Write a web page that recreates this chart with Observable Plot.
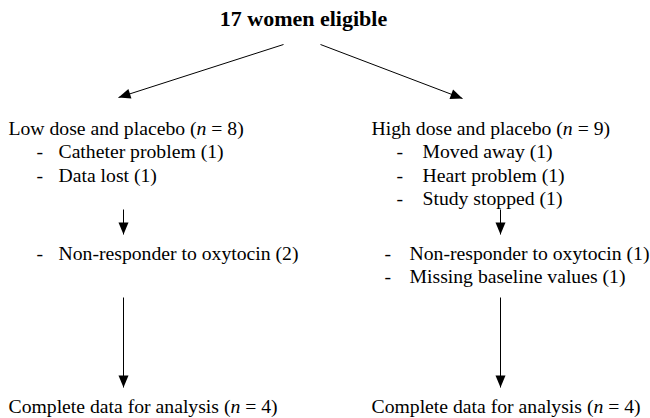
<!DOCTYPE html>
<html>
<head>
<meta charset="utf-8">
<script src="https://cdn.jsdelivr.net/npm/d3@7"></script>
<script src="https://cdn.jsdelivr.net/npm/@observablehq/plot@0.6"></script>
<style>
  html, body { margin: 0; padding: 0; background: #fff; }
  #chart svg { display: block; }
</style>
</head>
<body>
<div id="chart"></div>
<script>
// ---- Data ----
const title = "17 women eligible";
const groupNames = ["Low dose and placebo", "High dose and placebo"];
const groupN = [8, 9];
const firstExclusions = [
  ["Catheter problem (1)", "Data lost (1)"],
  ["Moved away (1)", "Heart problem (1)", "Study stopped (1)"]
];
const secondExclusions = [
  ["Non-responder to oxytocin (2)"],
  ["Non-responder to oxytocin (1)", "Missing baseline values (1)"]
];
const analysedLabel = "Complete data for analysis";
const analysedN = [4, 4];

// ---- Layout (positions in chart units) ----
const colLeft = [8, 371];        // left edge of the group headings
const colDash1 = [36, 396];      // dash of first exclusion list
const colItem1 = [58, 422];      // text of first exclusion list
const colDash2 = [36, 384];
const colItem2 = [58, 409];
const colArrow = [123, 500];
const titleX = 303, titleY = 18;
const headY = 128, lineGap = 23.5;
const list2Y = 253;
const arrow1 = [209, 234];
const arrow2 = [297, 387];
const finalY = 406;
const splitStart = [[283, 44], [320, 44]];
const splitEnd = [[118, 97], [462, 98]];

// ---- Build tables ----
const texts = [];
const dashes = [];
groupNames.forEach((g, i) => {
  texts.push({x: colLeft[i], y: headY, text: `${g} (n = ${groupN[i]})`});
  firstExclusions[i].forEach((t, j) => {
    dashes.push({x: colDash1[i], y: headY + lineGap * (j + 1)});
    texts.push({x: colItem1[i], y: headY + lineGap * (j + 1), text: t});
  });
  secondExclusions[i].forEach((t, j) => {
    dashes.push({x: colDash2[i], y: list2Y + lineGap * j});
    texts.push({x: colItem2[i], y: list2Y + lineGap * j, text: t});
  });
  texts.push({x: colLeft[i], y: finalY, text: `${analysedLabel} (n = ${analysedN[i]})`});
});

const arrows = [];
splitStart.forEach((s, i) => arrows.push({x1: s[0], y1: s[1], x2: splitEnd[i][0], y2: splitEnd[i][1]}));
colArrow.forEach(x => {
  arrows.push({x1: x, y1: arrow1[0], x2: x, y2: arrow1[1]});
  arrows.push({x1: x, y1: arrow2[0], x2: x, y2: arrow2[1]});
});

const headShape = {
  draw(context, l) {
    const w = 5;
    context.moveTo(0, -l);
    context.lineTo(w, 0);
    context.lineTo(-w, 0);
    context.closePath();
  }
};

const font = "'Liberation Serif', 'Times New Roman', Times, serif";
const bodySize = 19.7;

const chart = Plot.plot({
  width: 650,
  height: 418,
  margin: 0,
  x: {domain: [0, 650], range: [0, 650], axis: null},
  y: {domain: [0, 418], range: [0, 418], axis: null},
  style: {background: "#fff", fontFamily: font},
  marks: [
    Plot.text([title], {
      x: () => titleX, y: () => titleY, text: d => d,
      fontSize: 22, fontWeight: "bold", fontFamily: font, fill: "#000",
      textAnchor: "middle", lineAnchor: "middle"
    }),
    Plot.link(arrows, {
      x1: "x1", y1: "y1", x2: "x2", y2: "y2",
      stroke: "#000", strokeWidth: 1
    }),
    Plot.vector(arrows, {
      x: "x2", y: "y2",
      rotate: d => Math.atan2(d.x2 - d.x1, -(d.y2 - d.y1)) * 180 / Math.PI,
      length: 12,
      anchor: "end",
      shape: headShape,
      fill: "#000",
      stroke: "none"
    }),
    Plot.text(dashes, {
      x: "x", y: "y", text: () => "-",
      fontSize: bodySize, fontFamily: font, fill: "#000",
      textAnchor: "start", lineAnchor: "middle"
    }),
    Plot.text(texts, {
      x: "x", y: "y", text: "text",
      fontSize: bodySize, fontFamily: font, fill: "#000",
      textAnchor: "start", lineAnchor: "middle"
    })
  ]
});

// italicise the "n" in "(n = …)"
const NS = "http://www.w3.org/2000/svg";
chart.querySelectorAll("text").forEach(el => {
  const s = el.textContent;
  const m = s.match(/^(.*\()n( = .*)$/);
  if (!m) return;
  el.textContent = "";
  const a = document.createElementNS(NS, "tspan"); a.textContent = m[1];
  const b = document.createElementNS(NS, "tspan"); b.textContent = "n"; b.setAttribute("font-style", "italic");
  const c = document.createElementNS(NS, "tspan"); c.textContent = m[2];
  el.append(a, b, c);
});

document.getElementById("chart").appendChild(chart);
</script>
</body>
</html>
